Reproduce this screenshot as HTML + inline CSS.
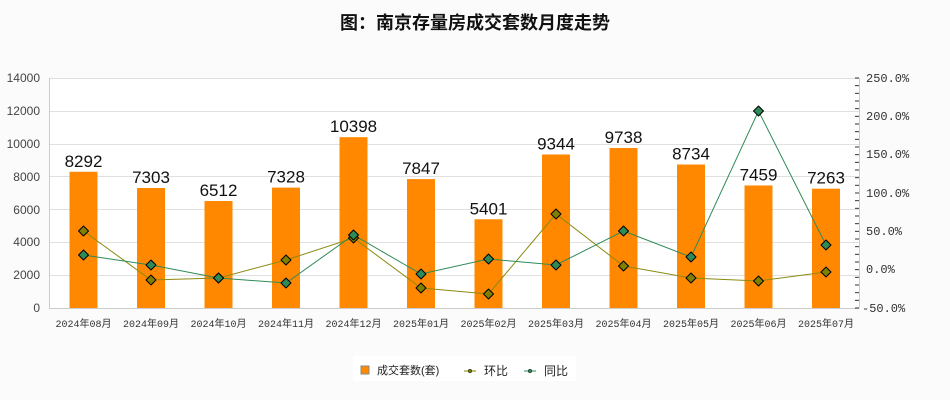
<!DOCTYPE html>
<html><head><meta charset="utf-8"><style>
body{margin:0;background:#fbfbfb;}
svg{display:block;font-family:"Liberation Sans","Noto Sans CJK SC",sans-serif;}
</style></head><body>
<svg width="950" height="400" viewBox="0 0 950 400">
<rect width="950" height="400" fill="#fbfbfb"/>
<text x="475" y="29" text-anchor="middle" font-size="18" font-weight="bold" fill="#111">图：南京存量房成交套数月度走势</text>
<rect x="49" y="78" width="810" height="230" fill="#fff"/>
<g stroke="#e0e0e0" stroke-width="1">
<line x1="49" x2="859" y1="78.5" y2="78.5"/><line x1="49" x2="859" y1="111.5" y2="111.5"/>
<line x1="49" x2="859" y1="144.5" y2="144.5"/><line x1="49" x2="859" y1="176.5" y2="176.5"/>
<line x1="49" x2="859" y1="209.5" y2="209.5"/><line x1="49" x2="859" y1="242.5" y2="242.5"/>
<line x1="49" x2="859" y1="275.5" y2="275.5"/>
<line x1="49" x2="859" y1="308.5" y2="308.5" stroke="#ccc"/>
<line x1="49.5" x2="49.5" y1="78" y2="308" stroke="#ccc"/>
<line x1="859.5" x2="859.5" y1="78" y2="308" stroke="#ccc"/>
</g>
<g font-size="12" fill="#444" text-anchor="end">
<text x="40" y="82">14000</text><text x="40" y="115">12000</text><text x="40" y="148">10000</text>
<text x="40" y="181">8000</text><text x="40" y="214">6000</text><text x="40" y="246">4000</text>
<text x="40" y="279">2000</text><text x="40" y="312">0</text>
</g>
<g font-size="12" fill="#333" font-family="'Liberation Mono','Noto Sans CJK SC',monospace">
<text x="866" y="82">250.0%</text><text x="866" y="120">200.0%</text><text x="866" y="158">150.0%</text>
<text x="866" y="197">100.0%</text><text x="866" y="235">50.0%</text><text x="866" y="273">0.0%</text>
<text x="862" y="312">-50.0%</text>
</g>
<g id="ticks" stroke="#333"></g>
<g id="bars"></g>
<g id="lines"></g>
<g font-size="10" fill="#333" text-anchor="middle" font-family="'Liberation Mono','Noto Sans CJK SC',monospace" id="xl"></g>
<rect x="353" y="356" width="223" height="25" fill="#fff"/>
<rect x="361" y="366" width="8" height="8" fill="#ff8a00" stroke="#888"/>
<text x="377" y="374" font-size="11" fill="#222">成交套数(套)</text>
<line x1="464" x2="476" y1="371" y2="371" stroke="#808000"/><circle cx="470" cy="371" r="1.8" fill="#808000" stroke="#000" stroke-width=".5"/>
<text x="484" y="375" font-size="12" fill="#222">环比</text>
<line x1="524" x2="536" y1="371" y2="371" stroke="#2e8b57"/><circle cx="530" cy="371" r="1.8" fill="#2e8b57" stroke="#000" stroke-width=".5"/>
<text x="544" y="375" font-size="12" fill="#222">同比</text>
</svg>
<script>
const ns="http://www.w3.org/2000/svg";
function el(p,t,a,txt){const e=document.createElementNS(ns,t);for(const k in a)e.setAttribute(k,a[k]);if(txt)e.textContent=txt;document.getElementById(p).appendChild(e);}
for(let i=0;i<=30;i++){const y=78+i*230/30;el("ticks","line",{x1:855,x2:859,y1:y,y2:y,"stroke-width":1});}
const v=[8292,7303,6512,7328,10398,7847,5401,9344,9738,8734,7459,7263];
const lab=["2024年08月","2024年09月","2024年10月","2024年11月","2024年12月","2025年01月","2025年02月","2025年03月","2025年04月","2025年05月","2025年06月","2025年07月"];
const hb=[231,280,278,260,238,288,294,214,266,278,281,272];
const tb=[255,265,278,283,235,274,259,265,231,257,111,245];
v.forEach((d,i)=>{const cx=49+67.5*i+34.5;const h=d/14000*230;
el("bars","rect",{x:cx-14,y:308-h,width:28,height:h,fill:"#ff8800"});
el("bars","text",{x:cx,y:303-h,"font-size":17,"text-anchor":"middle",fill:"#111"},String(d));
el("xl","text",{x:cx,y:327},lab[i]);});
function line(arr,c){el("lines","polyline",{points:arr.map((y,i)=>(49+67.5*i+34.5)+","+y).join(" "),fill:"none",stroke:c,"stroke-width":1});}
line(hb,"#8a8a10");line(tb,"#2e8b57");
function pts(arr,c){arr.forEach((y,i)=>{const x=49+67.5*i+34.5;el("lines","polygon",{points:`${x},${y-5} ${x+5},${y} ${x},${y+5} ${x-5},${y}`,fill:c,stroke:"#000","stroke-width":1,"stroke-linejoin":"round"});});}
pts(hb,"#808000");pts(tb,"#2e8b57");
</script>
</body></html>
